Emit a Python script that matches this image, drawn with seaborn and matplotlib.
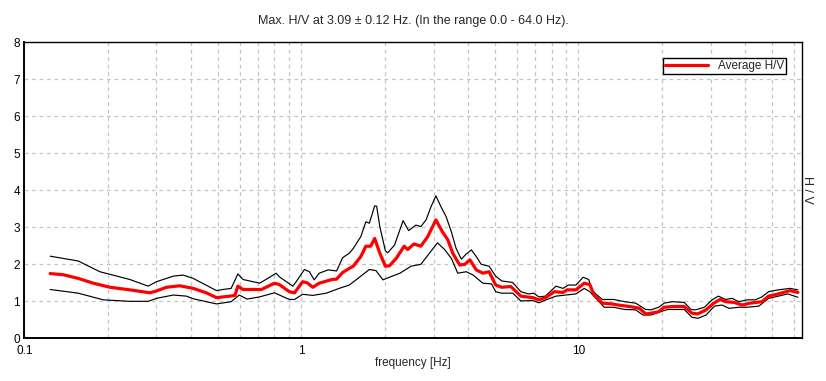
import numpy as np
import pandas as pd
import matplotlib
matplotlib.use("Agg")
import matplotlib.pyplot as plt
import matplotlib.ticker as mticker
import seaborn as sns

# ── H/V curves (frequency in Hz, H/V ratio) ────────────────────────────────
FREQ_AVG = [0.124, 0.138, 0.1565, 0.1773, 0.2036, 0.2404, 0.284, 0.300, 0.326,
            0.364, 0.407, 0.454, 0.494, 0.552, 0.576, 0.590, 0.616, 0.718, 0.80,
            0.834, 0.905, 0.945, 1.011, 1.05, 1.10, 1.16, 1.29, 1.34, 1.41,
            1.49, 1.54, 1.64, 1.71, 1.78, 1.84, 1.92, 2.01, 2.08, 2.20, 2.35,
            2.42, 2.55, 2.70, 2.86, 3.06, 3.23, 3.38, 3.52, 3.73, 3.89, 4.06,
            4.28, 4.52, 4.76, 5.03, 5.29, 5.7, 6.2, 6.5, 6.85, 7.2, 7.6, 8.2,
            8.8, 9.1, 9.8, 10.5, 11.0, 11.4, 12.2, 13.2, 13.9, 15.6, 16.6,
            17.5, 18.3, 19.5, 20.4, 22.0, 24.1, 25.7, 27.0, 28.9, 30.8, 32.5,
            34.0, 36.5, 39.0, 41.6, 46.0, 48.6, 52.7, 58.0, 62.0]
HV_AVG = [1.75, 1.72, 1.62, 1.49, 1.38, 1.31, 1.23, 1.28, 1.38,
          1.42, 1.35, 1.23, 1.10, 1.14, 1.16, 1.41, 1.32, 1.32, 1.49,
          1.45, 1.26, 1.23, 1.53, 1.50, 1.38, 1.49, 1.59, 1.60, 1.78,
          1.89, 1.95, 2.21, 2.49, 2.49, 2.70, 2.30, 1.95, 1.96, 2.16, 2.49,
          2.40, 2.55, 2.49, 2.75, 3.20, 2.88, 2.66, 2.30, 1.98, 2.00, 2.12,
          1.85, 1.76, 1.80, 1.44, 1.38, 1.40, 1.14, 1.12, 1.10, 1.04, 1.10, 1.26,
          1.24, 1.31, 1.31, 1.49, 1.45, 1.17, 0.95, 0.93, 0.90, 0.85, 0.81,
          0.66, 0.68, 0.72, 0.84, 0.86, 0.86, 0.68, 0.66, 0.77, 0.95, 1.05,
          0.99, 0.97, 0.90, 0.95, 0.99, 1.14, 1.20, 1.29, 1.24]

FREQ_HI = [0.124, 0.1565, 0.1874, 0.2404, 0.280, 0.300, 0.345, 0.374, 0.407,
           0.494, 0.522, 0.558, 0.590, 0.616, 0.707, 0.757, 0.811, 0.834,
           0.932, 0.958, 1.026, 1.069, 1.113, 1.16, 1.25, 1.34, 1.41, 1.49,
           1.54, 1.64, 1.71, 1.76, 1.84, 1.87, 1.92, 2.01, 2.05, 2.17, 2.33,
           2.44, 2.59, 2.70, 2.82, 2.94, 3.06, 3.19, 3.33, 3.48, 3.62, 3.78,
           3.94, 4.11, 4.28, 4.46, 4.76, 5.03, 5.29, 5.79, 6.2, 6.6, 6.9, 7.2,
           7.6, 8.3, 8.8, 9.2, 9.8, 10.4, 10.9, 11.2, 12.2, 13.4, 14.7, 16.1,
           17.5, 18.3, 19.5, 20.4, 21.8, 24.1, 25.5, 26.5, 28.5, 30.4, 32.0,
           34.0, 35.9, 37.9, 40.7, 43.5, 46.0, 48.6, 52.7, 58.0, 62.0]
HV_HI = [2.22, 2.09, 1.80, 1.59, 1.41, 1.53, 1.68, 1.71, 1.62,
         1.29, 1.32, 1.35, 1.74, 1.59, 1.49, 1.62, 1.76, 1.66,
         1.41, 1.53, 1.86, 1.80, 1.58, 1.76, 1.85, 1.82, 2.18, 2.30,
         2.43, 2.75, 3.15, 3.11, 3.58, 3.57, 3.02, 2.37, 2.31, 2.52, 3.18,
         2.91, 3.06, 3.02, 3.20, 3.56, 3.85, 3.56, 3.29, 2.88, 2.43, 2.14,
         2.28, 2.39, 2.21, 2.00, 1.95, 1.68, 1.55, 1.51, 1.26, 1.20, 1.22, 1.12,
         1.14, 1.41, 1.35, 1.44, 1.44, 1.65, 1.59, 1.29, 1.05, 1.05, 0.99, 0.95,
         0.78, 0.77, 0.84, 0.95, 0.99, 0.97, 0.78, 0.77, 0.84, 1.04, 1.14,
         1.05, 1.08, 0.99, 1.04, 1.04, 1.12, 1.26, 1.31, 1.35, 1.31]

FREQ_LO = [0.124, 0.1565, 0.193, 0.240, 0.280, 0.300, 0.345, 0.385, 0.407,
           0.494, 0.558, 0.597, 0.637, 0.707, 0.80, 0.905, 0.945, 1.011, 1.10,
           1.23, 1.37, 1.49, 1.62, 1.76, 1.86, 1.97, 2.11, 2.27, 2.49, 2.70,
           2.90, 3.10, 3.29, 3.48, 3.67, 3.94, 4.17, 4.52, 4.86, 5.03, 5.29,
           5.8, 6.2, 6.85, 7.2, 7.7, 8.3, 9.0, 9.8, 10.5, 11.0, 11.7, 12.4,
           13.4, 14.7, 16.1, 17.1, 18.3, 19.8, 21.0, 24.1, 25.7, 27.0, 28.9,
           31.0, 33.0, 35.0, 37.9, 40.7, 44.8, 48.6, 52.7, 57.0, 62.0]
HV_LO = [1.32, 1.22, 1.04, 1.00, 1.00, 1.08, 1.17, 1.14, 1.07,
         0.93, 0.99, 1.17, 1.06, 1.12, 1.23, 1.05, 1.05, 1.19, 1.16,
         1.22, 1.35, 1.44, 1.65, 1.86, 1.83, 1.58, 1.67, 1.76, 1.95, 2.00,
         2.30, 2.58, 2.40, 2.16, 1.76, 1.80, 1.71, 1.49, 1.47, 1.26, 1.22,
         1.22, 1.01, 1.02, 0.96, 1.05, 1.14, 1.17, 1.20, 1.35, 1.26, 1.04, 0.84,
         0.84, 0.78, 0.77, 0.63, 0.63, 0.72, 0.78, 0.78, 0.57, 0.54, 0.63,
         0.87, 0.90, 0.81, 0.84, 0.84, 0.87, 1.08, 1.14, 1.20, 1.11]

TITLE = "Max. H/V at 3.09 \u00b1 0.12 Hz. (In the range 0.0 - 64.0 Hz)."
X_TICKS = [0.1, 1, 10]
X_TICK_LABELS = ["0.1", "1", "10"]
Y_TICKS = list(range(0, 9))

sns.set_theme(style="white")
plt.rcParams["font.family"] = ["Liberation Sans", "DejaVu Sans"]
plt.rcParams["font.size"] = 8.5

avg = pd.DataFrame({"freq": FREQ_AVG, "hv": HV_AVG})
hi = pd.DataFrame({"freq": FREQ_HI, "hv": HV_HI})
lo = pd.DataFrame({"freq": FREQ_LO, "hv": HV_LO})

fig = plt.figure(figsize=(8.26, 3.81), dpi=100)
ax = fig.add_axes([0.0294, 0.112, 0.9412, 0.777])

sns.lineplot(data=hi, x="freq", y="hv", ax=ax, color="black", lw=0.85, sort=False)
sns.lineplot(data=lo, x="freq", y="hv", ax=ax, color="black", lw=0.85, sort=False)
sns.lineplot(data=avg, x="freq", y="hv", ax=ax, color="#ff0000", lw=2.3,
             sort=False, label="Average H/V")

ax.set_xscale("log")
ax.set_xlim(0.1, 64)
ax.set_ylim(0, 8)
ax.set_xticks(X_TICKS)
ax.set_xticklabels(X_TICK_LABELS)
ax.xaxis.set_minor_locator(mticker.LogLocator(base=10, subs=np.arange(2, 10)))
ax.xaxis.set_minor_formatter(mticker.NullFormatter())
ax.set_yticks(Y_TICKS)

ax.grid(True, which="both", axis="x", color="#c4c4c4", lw=0.9, ls=(0, (3, 3)))
ax.grid(True, which="major", axis="y", color="#c4c4c4", lw=0.9, ls=(0, (3, 3)))
ax.set_axisbelow(True)
ax.tick_params(which="both", length=0, labelsize=8.5, colors="black")
ax.tick_params(axis="x", pad=5)
ax.tick_params(axis="y", pad=3)

for side in ["top", "right", "left", "bottom"]:
    ax.spines[side].set_visible(True)
    ax.spines[side].set_color("black")
    ax.spines[side].set_linewidth(1.0)
ax.spines["bottom"].set_linewidth(1.4)
ax.spines["left"].set_linewidth(1.4)

ax.set_title(TITLE, fontsize=9, pad=13)
ax.set_xlabel("frequency [Hz]", fontsize=8.5, labelpad=0)
ax.yaxis.set_label_position("right")
ax.set_ylabel("H / V", fontsize=9, rotation=270, labelpad=8)

leg = ax.legend(loc="upper right", bbox_to_anchor=(0.980, 0.946),
                borderaxespad=0, fancybox=False, framealpha=1,
                edgecolor="black", fontsize=8.5, handlelength=3.6,
                handletextpad=0.9, borderpad=0.15)
leg.get_frame().set_linewidth(1.0)

fig.savefig("out.png", dpi=100)
